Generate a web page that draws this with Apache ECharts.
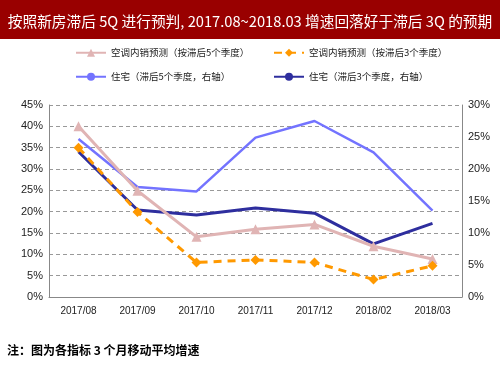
<!DOCTYPE html>
<html>
<head>
<meta charset="utf-8">
<script src="https://cdn.jsdelivr.net/npm/echarts@6/dist/echarts.min.js"></script>
<style>
  html, body { margin: 0; padding: 0; background: #fff; }
  #chart { width: 500px; height: 375px; }
</style>
</head>
<body>
<div id="chart"></div>
<script>
// 数据（从图上读取的估计值，单位 %）
const categories = ['2017/08', '2017/09', '2017/10', '2017/11', '2017/12', '2018/02', '2018/03'];
const acForecast5Q = [40.0, 24.9, 14.1, 15.9, 17.0, 11.9, 8.9];   // 空调内销预测（按滞后5个季度）
const acForecast3Q = [35.0, 19.9, 8.1, 8.7, 8.1, 4.1, 7.3];       // 空调内销预测（按滞后3个季度）
const housing5Q = [24.7, 17.2, 16.5, 24.9, 27.5, 22.6, 13.5];     // 住宅（滞后5个季度，右轴）
const housing3Q = [22.7, 13.6, 12.8, 13.9, 13.1, 8.3, 11.5];      // 住宅（滞后3个季度，右轴）

const names = [
    '空调内销预测（按滞后5个季度）',
    '空调内销预测（按滞后3个季度）',
    '住宅（滞后5个季度，右轴）',
    '住宅（滞后3个季度，右轴）'
];

const font = '"Noto Sans CJK SC", sans-serif';
const axisFont = '"Liberation Sans", Arial, sans-serif';

// 图例：四个独立的图例，手动摆放成两行
function legendAt(name, left, top) {
    return {
        data: [name],
        left: left,
        top: top,
        padding: 0,
        itemWidth: 30,
        itemHeight: 10,
        itemGap: 0,
        textStyle: { fontFamily: font, fontSize: 9.5, color: '#222' }
    };
}

const chart = echarts.init(document.getElementById('chart'));
chart.setOption({
    animation: false,
    backgroundColor: '#fff',
    grid: { left: 49, right: 38, top: 105, bottom: 78 },
    legend: [
        legendAt(names[0], 75, 48),
        legendAt(names[1], 273, 48),
        legendAt(names[2], 75, 72),
        legendAt(names[3], 273, 72)
    ],
    xAxis: {
        type: 'category',
        data: categories,
        boundaryGap: true,
        axisLine: { lineStyle: { color: '#888', width: 1 } },
        axisTick: { inside: true, length: 4, lineStyle: { color: '#888' } },
        axisLabel: { fontFamily: axisFont, fontSize: 10, color: '#222', margin: 9 }
    },
    yAxis: [
        {
            type: 'value',
            min: 0, max: 45, interval: 5,
            axisLine: { show: true, lineStyle: { color: '#888' } },
            axisTick: { show: false },
            axisLabel: { formatter: '{value}%', fontFamily: axisFont, fontSize: 11, color: '#222', margin: 6 },
            splitLine: { show: true, lineStyle: { color: '#999', type: [4, 3], width: 1 } }
        },
        {
            type: 'value',
            min: 0, max: 30, interval: 5,
            position: 'right',
            axisLine: { show: true, lineStyle: { color: '#888' } },
            axisTick: { show: false },
            axisLabel: { formatter: '{value}%', fontFamily: axisFont, fontSize: 11, color: '#222', margin: 6 },
            splitLine: { show: false }
        }
    ],
    series: [
        {
            name: names[2], type: 'line', yAxisIndex: 1, data: housing5Q,
            symbol: 'none', lineStyle: { color: '#7373FF', width: 2.5 }, itemStyle: { color: '#7373FF' }
        },
        {
            name: names[3], type: 'line', yAxisIndex: 1, data: housing3Q,
            symbol: 'none', lineStyle: { color: '#2E2E9E', width: 3 }, itemStyle: { color: '#2E2E9E' }
        },
        {
            name: names[0], type: 'line', yAxisIndex: 0, data: acForecast5Q,
            symbol: 'triangle', symbolSize: 10,
            lineStyle: { color: '#E0B4B4', width: 3 }, itemStyle: { color: '#E0B4B4' }
        },
        {
            name: names[1], type: 'line', yAxisIndex: 0, data: acForecast3Q,
            symbol: 'diamond', symbolSize: 10,
            lineStyle: { color: '#FF9900', width: 3, type: [8, 6] }, itemStyle: { color: '#FF9900' }
        }
    ],
    graphic: [
        {
            type: 'rect', left: 0, top: 0,
            shape: { width: 500, height: 39 },
            style: { fill: '#990000' }, z: -1
        },
        {
            type: 'text', x: 250, y: 21,
            style: {
                text: '按照新房滞后 5Q 进行预判, 2017.08~2018.03 增速回落好于滞后 3Q 的预期',
                fill: '#fff', font: '14.7px ' + font,
                textAlign: 'center', textVerticalAlign: 'middle'
            }
        },
        {
            type: 'text', x: 7, y: 350,
            style: {
                text: '注：图为各指标 3 个月移动平均增速',
                fill: '#000', font: 'bold 12px ' + font,
                textVerticalAlign: 'middle'
            }
        }
    ]
});
</script>
</body>
</html>
